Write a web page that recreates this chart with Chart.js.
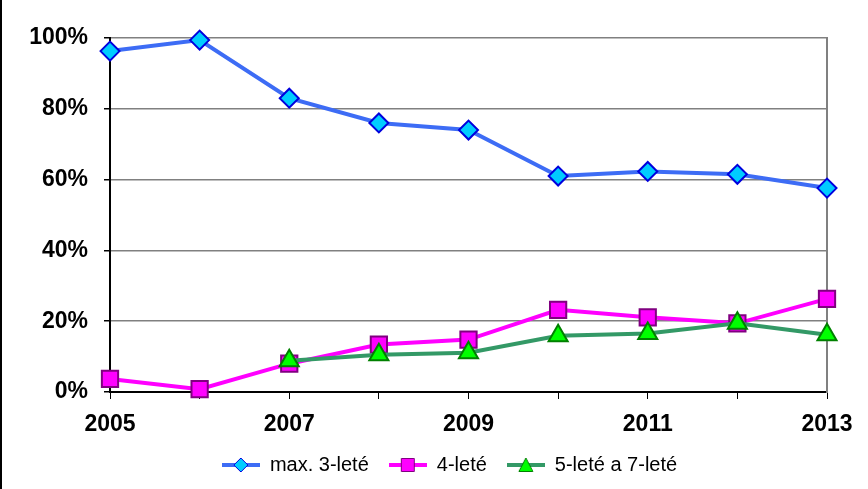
<!DOCTYPE html>
<html>
<head>
<meta charset="utf-8">
<script src="https://cdn.jsdelivr.net/npm/chart.js@4/dist/chart.umd.min.js"></script>
<style>
  html, body { margin: 0; padding: 0; background: #fff; }
  #wrap { width: 868px; height: 489px; }
</style>
</head>
<body>
<div id="wrap"><canvas id="chart" width="868" height="489"></canvas></div>
<script>
// data
const years = [2005, 2006, 2007, 2008, 2009, 2010, 2011, 2012, 2013];
const max3 = [96.3, 99.4, 83.0, 76.0, 74.0, 61.0, 62.3, 61.5, 57.6];
const four = [3.7, 0.8, 8.0, 13.4, 14.8, 23.2, 21.1, 19.4, 26.3];
const fiveSeven = [null, null, 8.8, 10.5, 11.1, 15.9, 16.5, 19.4, 16.2];
const seriesNames = ['max. 3-leté', '4-leté', '5-leté a 7-leté'];

const styles = [
    { line: '#3d6cf5', fill: '#00ccff', border: '#0000dd', shape: 'rectRot', radius: 9.5 },
    { line: '#ff00ff', fill: '#ff00ff', border: '#800080', shape: 'rect', radius: 11.5 },
    { line: '#339966', fill: '#00ff00', border: '#008000', shape: 'triangle', radius: 11 }
];

// legend icon: short line with the marker in the middle
function legendIcon(s) {
    const c = document.createElement('canvas');
    c.width = 38; c.height = 16;
    const g = c.getContext('2d');
    g.strokeStyle = s.line; g.lineWidth = 4;
    g.beginPath(); g.moveTo(0, 8); g.lineTo(38, 8); g.stroke();
    g.fillStyle = s.fill; g.strokeStyle = s.border; g.lineWidth = 1;
    g.beginPath();
    if (s.shape === 'rectRot') {
        g.moveTo(19, 1); g.lineTo(26, 8); g.lineTo(19, 15); g.lineTo(12, 8);
    } else if (s.shape === 'rect') {
        g.rect(12.5, 1.5, 13, 13);
    } else {
        g.moveTo(19, 1); g.lineTo(26, 14.5); g.lineTo(12, 14.5);
    }
    g.closePath(); g.fill(); g.stroke();
    return c;
}
const icons = styles.map(legendIcon);

const toPoints = arr => arr.map((v, i) => ({ x: years[i], y: v }));

const datasets = [max3, four, fiveSeven].map((arr, i) => ({
    label: seriesNames[i],
    data: toPoints(arr),
    borderColor: styles[i].line,
    borderWidth: 4,
    pointStyle: styles[i].shape,
    pointRadius: styles[i].radius,
    pointBackgroundColor: styles[i].fill,
    pointBorderColor: styles[i].border,
    pointBorderWidth: 2,
    spanGaps: false,
    tension: 0,
    clip: false
}));
// draw first series on top like the original
datasets[0].order = 1; datasets[1].order = 3; datasets[2].order = 2;

const frame = {
    id: 'frame',
    afterLayout(chart) {
        // legend sits a bit right of the plot centre in the original
        if (chart.legend) { chart.legend.left += 36; chart.legend.right += 36; }
    },
    beforeDraw(chart) {
        const g = chart.ctx;
        g.save();
        g.fillStyle = '#000';
        g.fillRect(0, 0, 2, chart.height);
        g.restore();
    }
};

const tickFont = { family: 'Liberation Sans, Arial', size: 23, weight: 'bold' };

new Chart(document.getElementById('chart'), {
    type: 'line',
    data: { datasets },
    plugins: [frame],
    options: {
        responsive: false,
        animation: false,
        layout: { padding: { left: 0, right: 41, top: 38, bottom: 4 } },
        scales: {
            x: {
                type: 'linear',
                min: 2005, max: 2013,
                ticks: {
                    stepSize: 1,
                    color: '#000',
                    font: tickFont,
                    padding: 12,
                    maxRotation: 0,
                    autoSkip: false,
                    callback: v => (v % 2 === 1 ? String(v) : '')
                },
                grid: { drawOnChartArea: false, color: '#000', tickLength: 7, lineWidth: 1 },
                border: { color: '#000', width: 2 },
                afterFit(s) { s.height = 43; }
            },
            y: {
                min: 0, max: 100,
                ticks: {
                    stepSize: 20,
                    color: '#000',
                    font: tickFont,
                    padding: 16,
                    callback: v => v + '%'
                },
                grid: {
                    color: '#808080', lineWidth: 1.5, tickLength: 6,
                    tickColor: '#000'
                },
                border: { color: '#000', width: 2 },
                afterFit(s) { s.width = 110; }
            },
            y2: {
                position: 'right', min: 0, max: 100, display: true,
                ticks: { display: false }, grid: { display: false },
                border: { color: '#808080', width: 2 },
                afterFit(s) { s.width = 0; }
            }
        },
        plugins: {
            tooltip: { enabled: false },
            legend: {
                position: 'bottom',
                labels: {
                    usePointStyle: true,
                    pointStyleWidth: 38,
                    boxHeight: 16,
                    padding: 20,
                    color: '#000',
                    font: { family: 'Liberation Sans, Arial', size: 20 },
                    generateLabels: chart => chart.data.datasets.map((d, i) => ({
                        text: d.label,
                        pointStyle: icons[i],
                        fillStyle: styles[i].fill,
                        strokeStyle: styles[i].border,
                        lineWidth: 0,
                        hidden: false,
                        datasetIndex: i
                    }))
                }
            }
        }
    }
});
</script>
</body>
</html>
